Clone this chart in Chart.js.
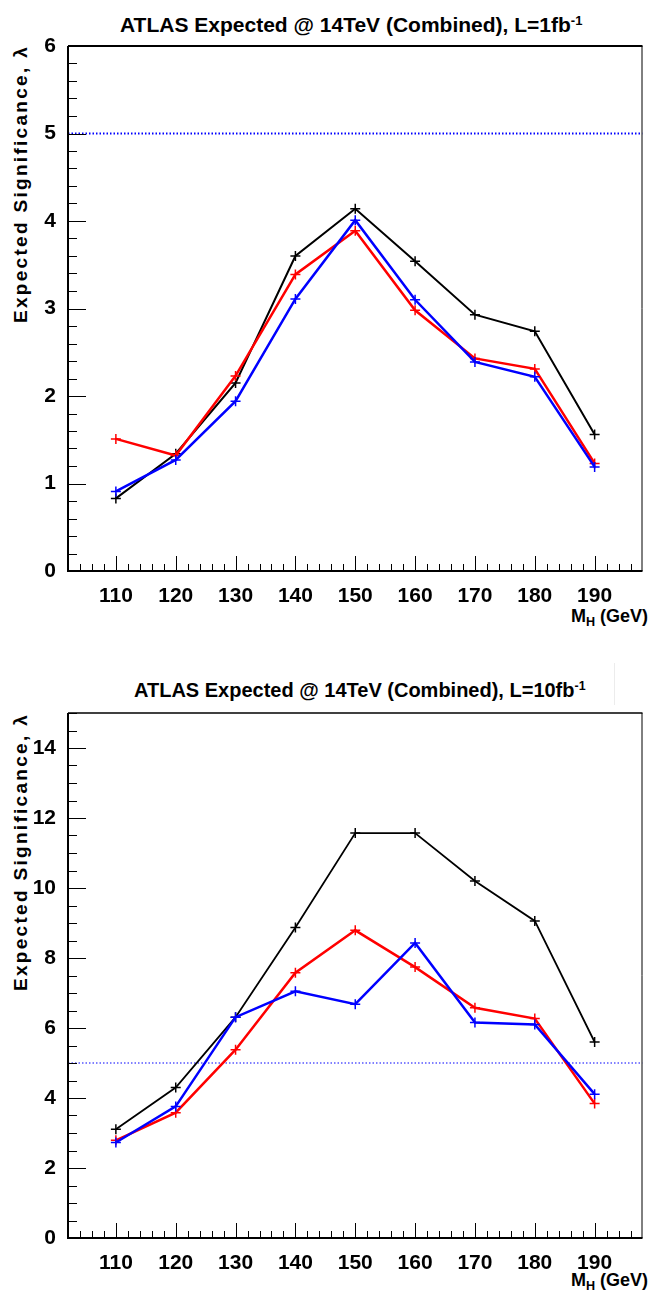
<!DOCTYPE html>
<html lang="en">
<head>
  <meta charset="UTF-8" />
  <title>ATLAS Expected Significance @ 14TeV</title>
  <script src="https://cdn.jsdelivr.net/npm/chart.js"></script>
  <style>
    body {
      margin: 0;
      background: #fff;
      width: 649px;
      height: 1293px;
      position: relative;
      overflow: hidden;
      font-family: 'Liberation Sans', Arial, sans-serif;
      color: #000;
    }
    canvas {
      position: absolute;
      left: 0;
    }
    .title, .xlab, .ylab {
      position: absolute;
      font-weight: bold;
      white-space: nowrap;
      line-height: 1;
    }
    .title sup {
      font-size: 0.62em;
      position: relative;
      top: -0.55em;
      vertical-align: baseline;
    }
    .xlab {
      font-size: 18px;
      right: 1px;
    }
    .xlab sub {
      font-size: 0.7em;
      position: relative;
      top: 0.3em;
      vertical-align: baseline;
    }
    .ylab {
      font-size: 19px;
      letter-spacing: 2.3px;
      transform-origin: 0 0;
      transform: rotate(-90deg);
    }
    .edge {
      position: absolute;
      left: 614px;
      top: 663px;
      width: 1px;
      height: 42px;
      background: #ececec;
    }
  </style>
</head>
<body>
  <div class="title" style="left:120px; top:14px; font-size:21px;">ATLAS Expected @ 14TeV (Combined), L=1fb<sup>-1</sup></div>
  <div class="ylab" style="left:10.6px; top:323px;">Expected Significance, &lambda;</div>
  <div class="xlab" style="top:607px;">M<sub>H</sub> (GeV)</div>
  <canvas id="chart1fb" width="649" height="626" style="top:0px"></canvas>

  <div class="edge"></div>
  <div class="title" style="left:134px; top:680px; font-size:20px;">ATLAS Expected @ 14TeV (Combined), L=10fb<sup>-1</sup></div>
  <div class="ylab" style="left:10.6px; top:991px;">Expected Significance, &lambda;</div>
  <div class="xlab" style="top:1271px;">M<sub>H</sub> (GeV)</div>
  <canvas id="chart10fb" width="649" height="626" style="top:667px"></canvas>

  <script>
    // Higgs masses (GeV)
    const massPoints = [110, 120, 130, 140, 150, 160, 170, 180, 190];

    // L = 1 fb^-1
    const sig1fbBlack = [0.83, 1.34, 2.15, 3.60, 4.14, 3.54, 2.93, 2.74, 1.56];
    const sig1fbRed   = [1.51, 1.32, 2.23, 3.39, 3.89, 2.98, 2.43, 2.31, 1.23];
    const sig1fbBlue  = [0.91, 1.27, 1.94, 3.11, 4.01, 3.10, 2.39, 2.22, 1.19];

    // L = 10 fb^-1
    const sig10fbBlack = [3.11, 4.30, 6.31, 8.87, 11.57, 11.57, 10.20, 9.06, 5.60];
    const sig10fbRed   = [2.79, 3.58, 5.38, 7.58, 8.79, 7.74, 6.58, 6.27, 3.84];
    const sig10fbBlue  = [2.73, 3.76, 6.31, 7.05, 6.68, 8.43, 6.16, 6.10, 4.11];

    // 5 sigma discovery line
    const discoveryLevel = 5;

    // tick labels
    const xTickValues = [110, 120, 130, 140, 150, 160, 170, 180, 190];
    const yTicks1fb = [0, 1, 2, 3, 4, 5, 6];
    const yTicks10fb = [0, 2, 4, 6, 8, 10, 12, 14];

    const xMin = 102, xMax = 198;
    const tickFont = { family: "'Liberation Sans', Arial, sans-serif", size: 21, weight: 'bold' };

    // ROOT-like frame with inward ticks
    const frameTicks = {
      id: 'frameTicks',
      afterDatasetsDraw(chart, args, opts) {
        const { ctx, chartArea: a, scales: { x, y } } = chart;
        ctx.save();
        ctx.strokeStyle = '#000';
        ctx.lineWidth = 1;
        ctx.beginPath();
        const nY = Math.round((y.max - y.min) / opts.yMinor);
        for (let i = 0; i <= nY; i++) {
          const v = y.min + i * opts.yMinor;
          const py = Math.round(y.getPixelForValue(v)) + 0.5;
          const major = Math.abs(v / opts.yMajor - Math.round(v / opts.yMajor)) < 1e-6;
          ctx.moveTo(a.left, py);
          ctx.lineTo(a.left + (major ? 18 : 9), py);
        }
        for (let v = 104; v <= 196; v += 2) {
          const px = Math.round(x.getPixelForValue(v)) + 0.5;
          const major = v % 10 === 0;
          ctx.moveTo(px, a.bottom);
          ctx.lineTo(px, a.bottom - (major ? 15 : 7));
        }
        ctx.stroke();

        // frame
        ctx.lineWidth = 2;
        ctx.beginPath();
        ctx.moveTo(a.left, a.top);
        ctx.lineTo(a.left, a.bottom);
        ctx.lineTo(a.right, a.bottom);
        ctx.stroke();
        ctx.lineWidth = opts.topWidth;
        ctx.beginPath();
        ctx.moveTo(a.left, a.top);
        ctx.lineTo(a.right, a.top);
        ctx.stroke();
        ctx.lineWidth = 1;
        ctx.beginPath();
        ctx.moveTo(a.right - 0.5, a.top);
        ctx.lineTo(a.right - 0.5, a.bottom);
        ctx.stroke();
        ctx.restore();
      }
    };

    function series(values, color, width) {
      return {
        data: massPoints.map((m, i) => ({ x: m, y: values[i] })),
        borderColor: color,
        backgroundColor: color,
        borderWidth: width,
        pointStyle: 'cross',
        pointRadius: 5,
        pointBorderWidth: 1.5,
        pointBorderColor: color,
        tension: 0,
        fill: false
      };
    }

    function makeChart(id, black, red, blue, yTicks, yMax, yMinor, yMajor, blackWidth, dotWidth, topWidth) {
      new Chart(document.getElementById(id), {
        type: 'line',
        data: {
          datasets: [
            series(blue, '#0000ff', 2.5),
            series(red, '#ff0000', 2.5),
            series(black, '#000000', blackWidth),
            {
              data: [{ x: xMin, y: discoveryLevel }, { x: xMax, y: discoveryLevel }],
              borderColor: '#0000ff',
              borderWidth: dotWidth,
              borderDash: [1.5, 2],
              pointRadius: 0,
              fill: false
            }
          ]
        },
        options: {
          responsive: false,
          animation: false,
          devicePixelRatio: 1,
          layout: { padding: { left: 0, top: 46, right: 1, bottom: 0 } },
          plugins: {
            legend: { display: false },
            tooltip: { enabled: false },
            frameTicks: { yMinor: yMinor, yMajor: yMajor, topWidth: topWidth }
          },
          scales: {
            x: {
              type: 'linear',
              min: xMin,
              max: xMax,
              afterFit(s) { s.height = 55; },
              afterBuildTicks(s) { s.ticks = xTickValues.map(v => ({ value: v })); },
              grid: { display: false },
              border: { display: false },
              ticks: { font: tickFont, color: '#000', padding: 5, maxRotation: 0, autoSkip: false }
            },
            y: {
              min: 0,
              max: yMax,
              afterFit(s) { s.width = 68; },
              afterBuildTicks(s) { s.ticks = yTicks.map(v => ({ value: v })); },
              grid: { display: false },
              border: { display: false },
              ticks: { font: tickFont, color: '#000', padding: 4, autoSkip: false }
            }
          }
        },
        plugins: [frameTicks]
      });
    }

    makeChart('chart1fb', sig1fbBlack, sig1fbRed, sig1fbBlue, yTicks1fb, 6, 0.2, 1, 2, 2, 2);
    makeChart('chart10fb', sig10fbBlack, sig10fbRed, sig10fbBlue, yTicks10fb, 15, 0.5, 2, 1.8, 1, 1.5);
  </script>
</body>
</html>
